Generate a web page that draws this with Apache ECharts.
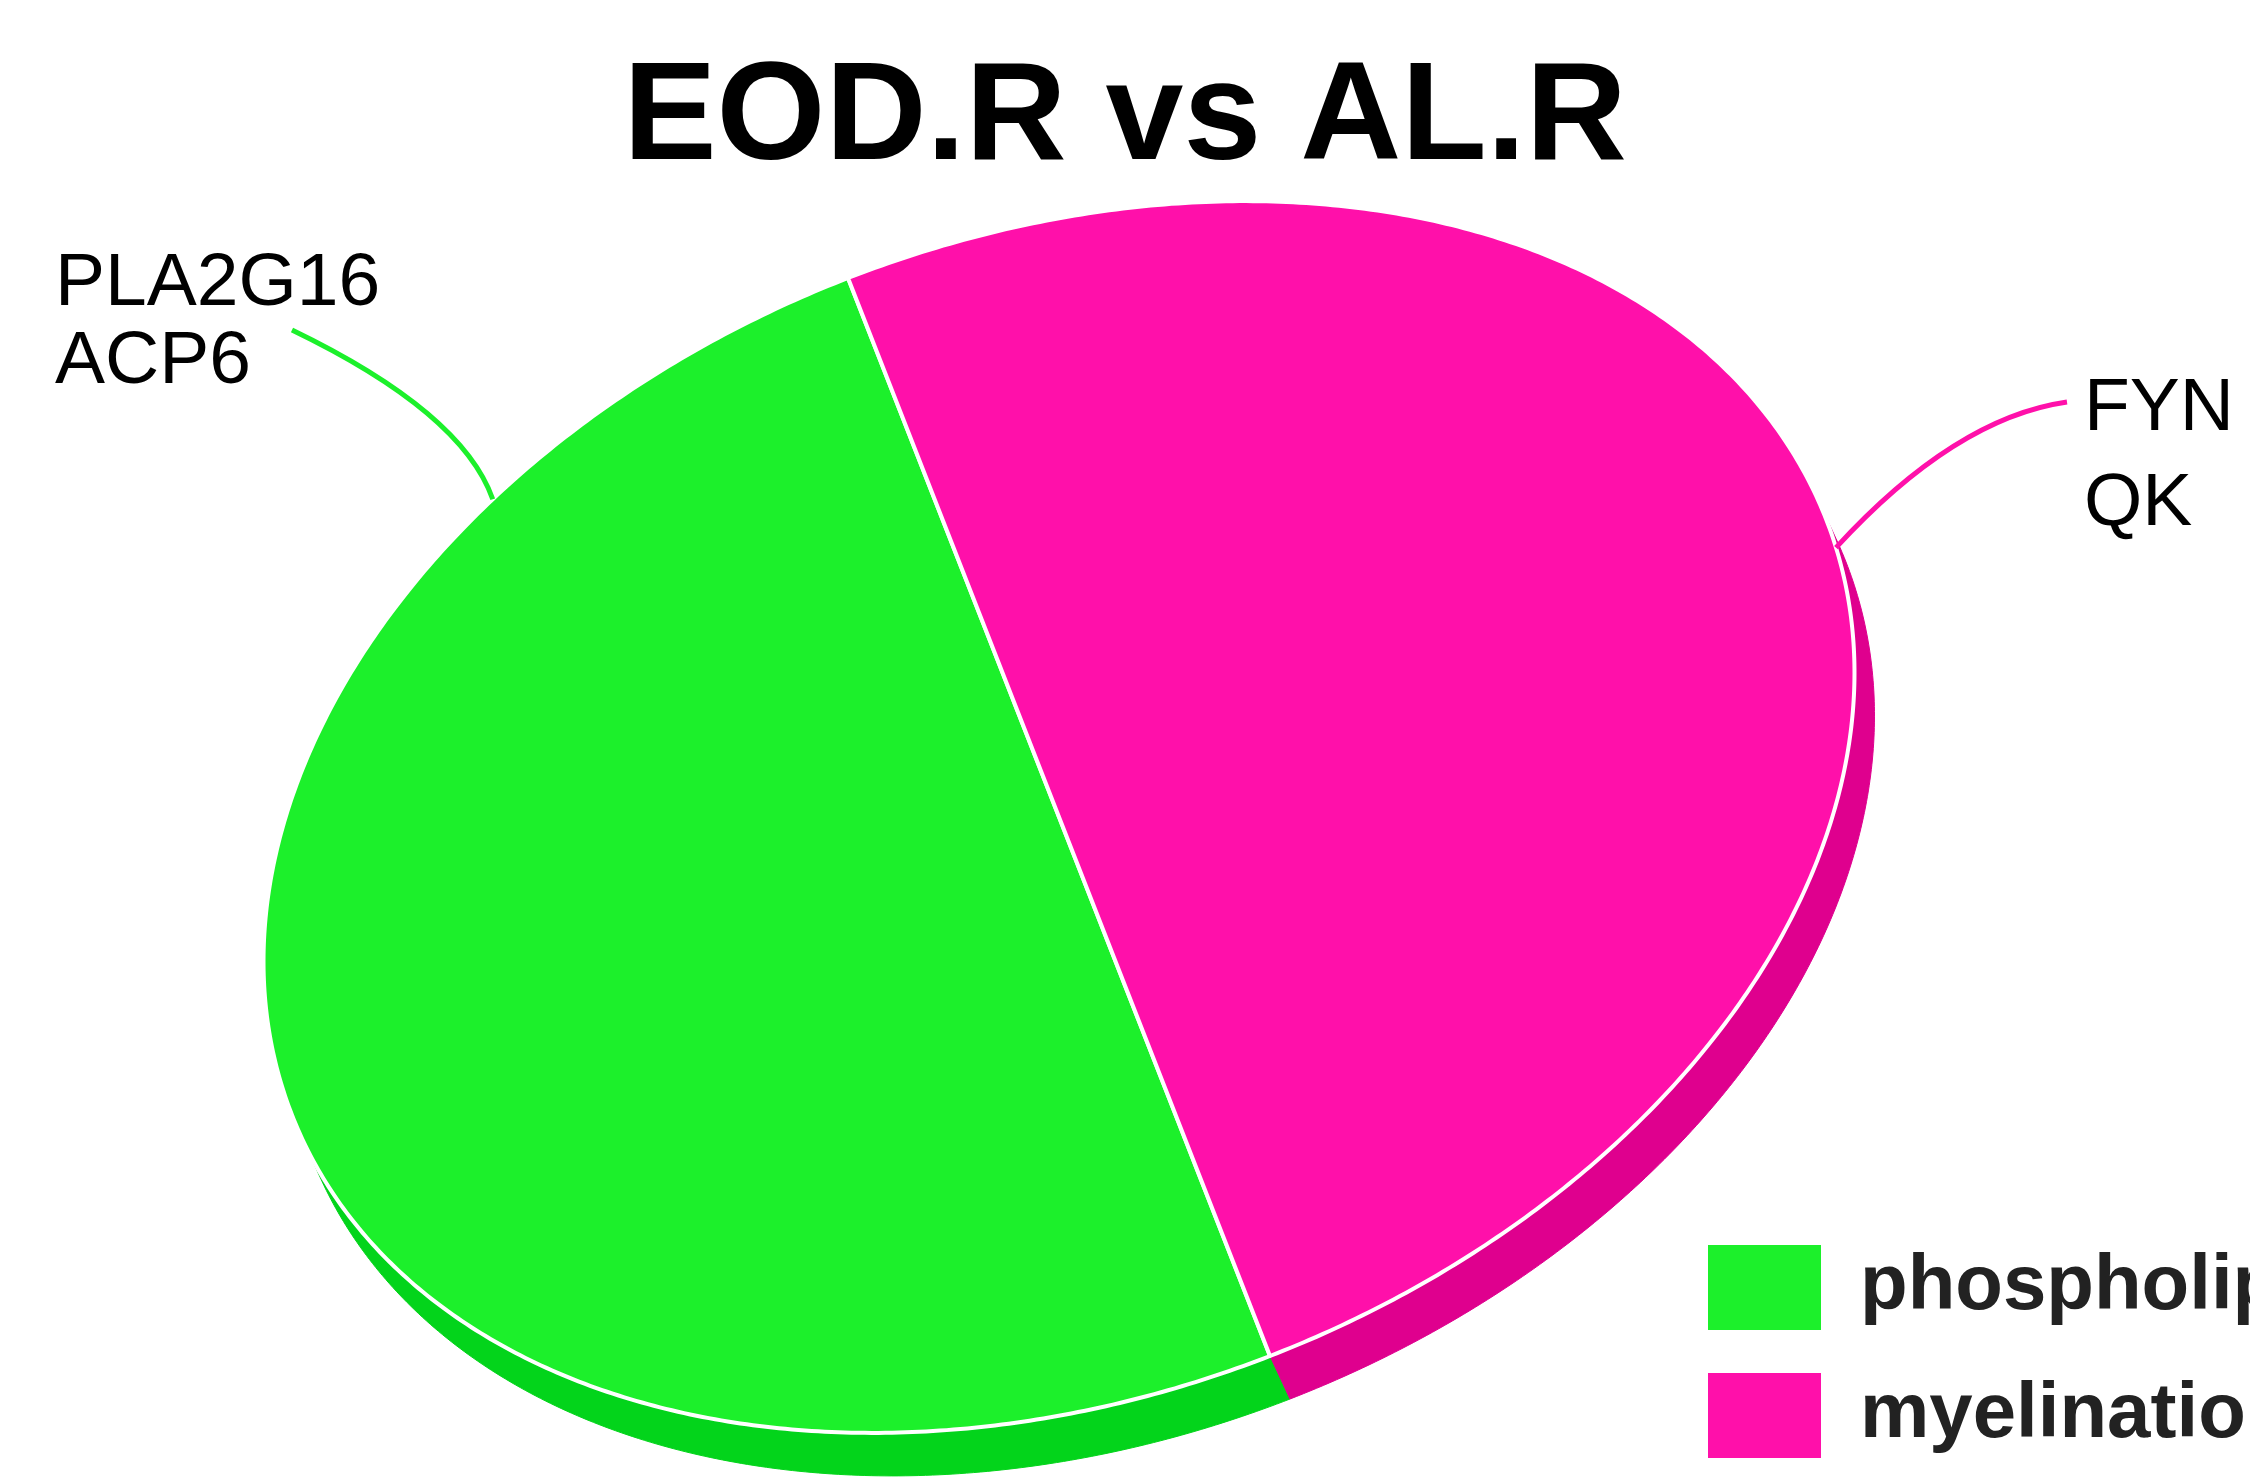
<!DOCTYPE html>
<html>
<head>
<meta charset="utf-8">
<script src="https://cdn.jsdelivr.net/npm/echarts@6/dist/echarts.min.js"></script>
<style>
  html, body { margin: 0; padding: 0; background: #ffffff; }
  #chart { width: 2250px; height: 1478px; }
</style>
</head>
<body>
<div id="chart"></div>
<script>
// ---- data ----
const titleText = 'EOD.R vs AL.R';
const categories = ['phospholipid metabolic process', 'myelination'];
const geneCounts = [2, 2];
const geneLabels = [['PLA2G16', 'ACP6'], ['FYN', 'QK']];

// ---- style ----
const faceColors = ['#1CF02B', '#FF10AA'];
const sideColors = ['#03D41B', '#DF008E'];
const fontFamily = '"Liberation Sans", Arial, sans-serif';

// Tilted disc: centre, two conjugate semi-diameters of the top face,
// and the offset that extrudes the rim into a visible edge.
const disc = { cx: 1059, cy: 817, ux: 211, uy: 539, vx: 767, vy: -298, dx: 20, dy: 43, startDeg: 180 };

// Leader lines and gene lists placed beside their slices.
const labelLayout = [
  { anchorDeg: 210, bend: [462, 412], end: [292, 330], textX: 55, baselines: [305, 383] },
  { anchorDeg: 87, bend: [1955, 418], end: [2067, 402], textX: 2084, baselines: [430, 525] }
];
const labelFontSize = 75;
// distance from the text middle line down to the baseline, in em
const middleToBaseline = 0.274;

function rim(deg) {
  const t = deg * Math.PI / 180;
  return [
    disc.cx + disc.ux * Math.cos(t) + disc.vx * Math.sin(t),
    disc.cy + disc.uy * Math.cos(t) + disc.vy * Math.sin(t)
  ];
}
// true where the rim faces the viewer (extruded edge visible)
function rimVisible(deg) {
  const t = deg * Math.PI / 180;
  const tx = -disc.ux * Math.sin(t) + disc.vx * Math.cos(t);
  const ty = -disc.uy * Math.sin(t) + disc.vy * Math.cos(t);
  return tx * disc.dy - ty * disc.dx >= 0;
}

const total = geneCounts.reduce((s, v) => s + v, 0);
const before = geneCounts.map((v, i) => geneCounts.slice(0, i).reduce((s, x) => s + x, 0));

function renderSlice(idx, api) {
  const value = api.value(0);
  const prior = api.value(1);
  const sum = api.value(2);
  const a = disc.startDeg + 360 * prior / sum;
  const b = a + 360 * value / sum;
  const steps = Math.max(12, Math.round((b - a) * 2));
  const arc = [];
  for (let k = 0; k <= steps; k++) arc.push(a + (b - a) * k / steps);

  const facePts = [[disc.cx, disc.cy]].concat(arc.map(rim));

  const visibleArc = arc.filter(rimVisible);
  const children = [];
  if (visibleArc.length > 1) {
    const upper = visibleArc.map(rim);
    const lower = visibleArc.map(d => { const p = rim(d); return [p[0] + disc.dx, p[1] + disc.dy]; }).reverse();
    children.push({
      type: 'polygon',
      shape: { points: upper.concat(lower) },
      style: { fill: sideColors[idx], stroke: sideColors[idx], lineWidth: 1 },
      z2: 1
    });
  }
  children.push({
    type: 'polygon',
    shape: { points: facePts },
    style: { fill: faceColors[idx], stroke: '#ffffff', lineWidth: 4, lineJoin: 'round' },
    z2: 2
  });

  const lay = labelLayout[idx];
  const anchor = rim(lay.anchorDeg);
  children.push({
    type: 'bezierCurve',
    shape: { x1: anchor[0], y1: anchor[1], cpx1: lay.bend[0], cpy1: lay.bend[1], x2: lay.end[0], y2: lay.end[1] },
    style: { stroke: faceColors[idx], lineWidth: 5, fill: null },
    z2: 3
  });
  geneLabels[idx].forEach((gene, j) => {
    children.push({
      type: 'text',
      style: {
        text: gene,
        x: lay.textX,
        y: lay.baselines[j] - middleToBaseline * labelFontSize,
        fill: '#000000',
        fontSize: labelFontSize,
        fontFamily: fontFamily,
        align: 'left',
        verticalAlign: 'middle'
      },
      z2: 3
    });
  });
  return { type: 'group', children };
}

const chart = echarts.init(document.getElementById('chart'), null, { renderer: 'canvas' });
chart.setOption({
  backgroundColor: '#ffffff',
  animation: false,
  title: {
    text: titleText,
    left: 'center',
    top: 50,
    padding: 0,
    textStyle: { fontSize: 140, fontWeight: 'bold', fontFamily: fontFamily, color: '#000000', lineHeight: 140 }
  },
  legend: {
    orient: 'vertical',
    left: 1708,
    top: 1227.5,
    padding: 0,
    itemWidth: 113,
    itemHeight: 85,
    itemGap: 8,
    icon: 'rect',
    data: categories,
    selectedMode: false,
    textStyle: {
      fontSize: 78,
      lineHeight: 74,
      fontWeight: 'bold',
      fontFamily: fontFamily,
      color: '#222222',
      padding: [46, 0, 0, 34]
    }
  },
  series: categories.map((name, i) => ({
    type: 'custom',
    name: name,
    coordinateSystem: 'none',
    itemStyle: { color: faceColors[i] },
    data: [[geneCounts[i], before[i], total]],
    renderItem: (params, api) => renderSlice(i, api)
  }))
});
</script>
</body>
</html>
